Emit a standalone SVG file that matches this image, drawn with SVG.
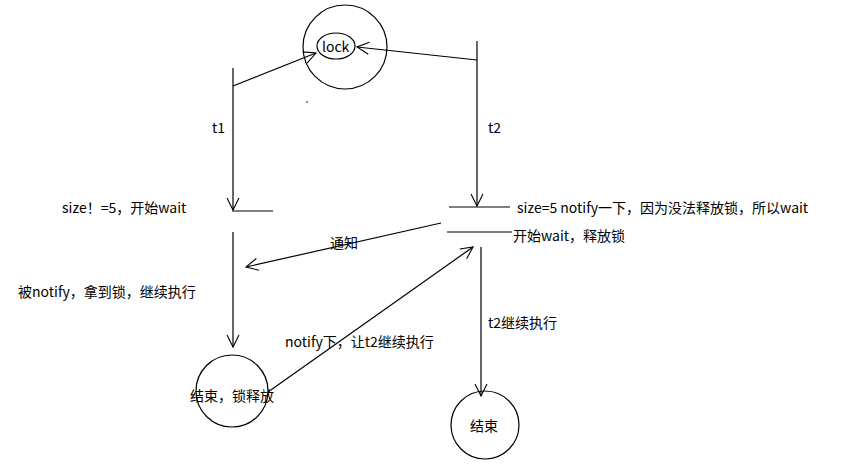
<svg xmlns="http://www.w3.org/2000/svg" width="844" height="473" viewBox="0 0 844 473">
<style>
.l{stroke:#000;stroke-width:1.2;fill:none}
text{font-family:"Noto Sans CJK SC","Liberation Sans",sans-serif;font-size:14px;fill:#000}
</style>
<defs><marker id="a" markerWidth="14" markerHeight="14" refX="13" refY="7" orient="auto" markerUnits="userSpaceOnUse"><path d="M1,1 L13,7 L1,13" fill="none" stroke="#000" stroke-width="1.1"/></marker></defs>
<rect width="844" height="473" fill="#fff"/>
<g id="lock"><circle class="l" cx="345" cy="47" r="42"/><ellipse class="l" cx="336" cy="46" rx="19" ry="13"/><text x="322" y="52">lock</text></g>
<g id="end1"><circle class="l" cx="232" cy="391" r="36"/><text x="190" y="401">结束，锁释放</text></g>
<g id="end2"><circle class="l" cx="485" cy="425" r="34"/><text x="470" y="431">结束</text></g>
<g id="labels">
<text x="212" y="133">t1</text><text x="488" y="133">t2</text>
<text x="62" y="213">size！=5，开始wait</text>
<text x="517" y="213">size=5 notify一下，因为没法释放锁，所以wait</text>
<text x="513" y="241">开始wait，释放锁</text>
<text x="330" y="248">通知</text>
<text x="18" y="297">被notify，拿到锁，继续执行</text>
<text x="285" y="347">notify下，让t2继续执行</text>
<text x="488" y="328">t2继续执行</text>
</g>
<g id="connectors">
<line class="l" x1="233" y1="68" x2="233" y2="86"/>
<line class="l" x1="233" y1="86" x2="316" y2="53" marker-end="url(#a)"/>
<line class="l" x1="233" y1="86" x2="233" y2="210" marker-end="url(#a)"/>
<line class="l" x1="477" y1="41" x2="477" y2="60"/>
<line class="l" x1="477" y1="60" x2="357" y2="47" marker-end="url(#a)"/>
<line class="l" x1="477" y1="60" x2="477" y2="206" marker-end="url(#a)"/>
<line class="l" x1="232" y1="211" x2="273" y2="211"/>
<line class="l" x1="449" y1="207" x2="510" y2="207"/>
<line class="l" x1="447" y1="232" x2="512" y2="232"/>
<line class="l" x1="233" y1="232" x2="233" y2="347" marker-end="url(#a)"/>
<line class="l" x1="481" y1="247" x2="481" y2="396" marker-end="url(#a)"/>
<line class="l" x1="441" y1="223" x2="246" y2="267" marker-end="url(#a)"/>
<line class="l" x1="268" y1="392" x2="473" y2="247" marker-end="url(#a)"/>
<circle cx="307" cy="102" r="0.8" fill="#000"/>
</g>
</svg>
